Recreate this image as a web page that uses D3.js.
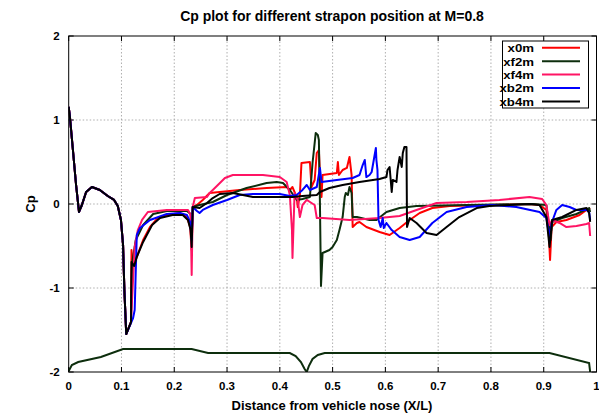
<!doctype html>
<html lang="en">
  <head>
    <meta charset="UTF-8" />
    <title>Cp plot for different strapon position at M=0.8</title>
    <script src="https://d3js.org/d3.v7.min.js"></script>
    <style>
      body {
        margin: 0;
        background: #fff;
      }
      text {
        font-family: 'Liberation Sans', Arial, sans-serif;
        font-weight: bold;
        fill: #000;
      }
      .grid line {
        stroke: #9a9a9a;
        stroke-width: 0.8;
        stroke-dasharray: 1.5, 2;
      }
    </style>
  </head>
  <body>
    <svg id="chart" width="599" height="415"></svg>
    <script>
      // tick values
      const xTicks = [0, 0.1, 0.2, 0.3, 0.4, 0.5, 0.6, 0.7, 0.8, 0.9, 1]
      const yTicks = [-2, -1, 0, 1, 2]

      // legend order
      const seriesNames = ['x0m', 'xf2m', 'xf4m', 'xb2m', 'xb4m']
      const seriesColors = ['#ff0000', '#0d2e0d', '#ff1464', '#0000ff', '#000000']

      // nose region is the same for every case
      const noseCp = [
        [0, 1.155], [0.0025, 1.024], [0.008, 0.643], [0.014, 0.226], [0.0195, -0.095],
        [0.025, -0.012], [0.033, 0.143], [0.044, 0.202], [0.059, 0.167], [0.074, 0.095],
        [0.086, 0.048], [0.093, -0.024], [0.099, -0.19], [0.103, -0.488], [0.1055, -1.024],
        [0.109, -1.548]
      ]

      const x0m = [
        [0.118, -1.405], [0.119, -0.548], [0.122, -0.75], [0.129, -0.631], [0.141, -0.429],
        [0.154, -0.274], [0.169, -0.167], [0.186, -0.131], [0.211, -0.107], [0.224, -0.155],
        [0.23, -0.274], [0.233, -0.548], [0.235, -0.036], [0.243, -0.012], [0.254, 0.048],
        [0.267, 0.131], [0.286, 0.143], [0.324, 0.167], [0.375, 0.19], [0.413, 0.202],
        [0.419, 0.167], [0.424, 0.202], [0.432, 0.083], [0.434, -0.036], [0.438, 0.107],
        [0.441, 0.488], [0.457, 0.5], [0.46, 0.202], [0.466, 0.286], [0.47, 0.607],
        [0.474, 0.643], [0.476, 0.345], [0.479, 0.083], [0.481, 0.345], [0.508, 0.369],
        [0.51, 0.5], [0.512, 0.345], [0.519, 0.405], [0.527, 0.429], [0.532, 0.56],
        [0.536, 0.345], [0.538, -0.274], [0.546, -0.226], [0.551, -0.214], [0.564, -0.274],
        [0.589, -0.333], [0.608, -0.369], [0.627, -0.286], [0.646, -0.19], [0.665, -0.107],
        [0.689, -0.048], [0.722, -0.024], [0.797, -0.012], [0.873, 0], [0.892, -0.012],
        [0.905, -0.071], [0.909, -0.274], [0.912, -0.667], [0.915, -0.274], [0.924, -0.214],
        [0.943, -0.19], [0.968, -0.131], [0.981, -0.071], [0.988, -0.048]
      ]

      const xf2m = [
        [0.118, -1.405], [0.12, -0.714], [0.127, -0.429], [0.141, -0.25], [0.16, -0.119],
        [0.186, -0.083], [0.224, -0.083], [0.231, -0.119], [0.233, -0.393], [0.235, -0.036],
        [0.248, -0.012], [0.273, 0.024], [0.3, 0.107], [0.337, 0.19], [0.375, 0.25],
        [0.394, 0.262], [0.406, 0.25], [0.419, 0.167], [0.432, 0.048], [0.443, 0.06],
        [0.457, 0.083], [0.462, 0.488], [0.468, 0.845], [0.472, 0.821], [0.474, 0.762],
        [0.476, 0.012], [0.478, -0.976], [0.481, -0.583], [0.494, -0.548], [0.5, -0.512],
        [0.508, -0.429], [0.513, -0.31], [0.519, -0.155], [0.523, 0.083], [0.525, 0.131],
        [0.529, 0.107], [0.532, 0.202], [0.536, 0.131], [0.538, -0.155], [0.546, -0.155],
        [0.57, -0.19], [0.583, -0.19], [0.602, -0.095], [0.627, -0.048], [0.659, -0.024],
        [0.754, -0.012], [0.879, 0], [0.905, -0.012], [0.909, -0.226], [0.913, -0.429],
        [0.916, -0.214], [0.935, -0.167], [0.962, -0.119], [0.986, -0.048], [0.988, -0.095]
      ]

      const xf4m = [
        [0.118, -1.405], [0.125, -0.512], [0.131, -0.31], [0.139, -0.19], [0.15, -0.095],
        [0.186, -0.071], [0.226, -0.071], [0.231, -0.131], [0.233, -0.845], [0.235, -0.036],
        [0.239, 0.071], [0.262, 0.083], [0.267, 0.131], [0.273, 0.167], [0.296, 0.31],
        [0.311, 0.345], [0.368, 0.345], [0.4, 0.321], [0.413, 0.262], [0.419, 0.107],
        [0.423, -0.31], [0.424, -0.643], [0.426, -0.25], [0.428, 0.131], [0.434, 0.048],
        [0.438, -0.155], [0.443, -0.012], [0.451, 0.048], [0.46, 0.012], [0.466, -0.012],
        [0.47, -0.167], [0.481, -0.167], [0.532, -0.19], [0.589, -0.167], [0.627, -0.143],
        [0.659, -0.071], [0.697, 0.012], [0.754, 0.024], [0.816, 0.048], [0.873, 0.083],
        [0.897, 0.06], [0.905, -0.012], [0.911, -0.25], [0.916, -0.19], [0.93, -0.226],
        [0.943, -0.274], [0.962, -0.262], [0.981, -0.238], [0.986, -0.226], [0.988, -0.381]
      ]

      const xb2m = [
        [0.122, -1.357], [0.125, -1.262], [0.129, -0.369], [0.135, -0.286], [0.154, -0.19],
        [0.186, -0.119], [0.211, -0.107], [0.224, -0.131], [0.23, -0.214], [0.233, -0.429],
        [0.235, -0.036], [0.243, -0.083], [0.248, -0.107], [0.254, -0.071], [0.273, -0.012],
        [0.3, 0.048], [0.324, 0.107], [0.349, 0.119], [0.4, 0.119], [0.419, 0.095],
        [0.432, 0.107], [0.443, 0.167], [0.451, 0.226], [0.457, 0.167], [0.47, 0.202],
        [0.476, 0.429], [0.479, 0.262], [0.508, 0.286], [0.538, 0.31], [0.551, 0.345],
        [0.557, 0.464], [0.561, 0.524], [0.564, 0.321], [0.57, 0.345], [0.574, 0.381],
        [0.578, 0.524], [0.582, 0.667], [0.583, 0.524], [0.585, 0.405], [0.587, -0.19],
        [0.591, -0.274], [0.595, -0.167], [0.597, -0.286], [0.602, -0.226], [0.612, -0.31],
        [0.627, -0.393], [0.646, -0.429], [0.665, -0.393], [0.689, -0.226], [0.716, -0.095],
        [0.754, -0.036], [0.803, -0.012], [0.848, -0.036], [0.892, -0.095], [0.905, -0.167],
        [0.911, -0.393], [0.915, -0.226], [0.924, -0.071], [0.935, -0.012], [0.949, -0.036],
        [0.962, -0.071], [0.981, -0.071], [0.986, -0.095], [0.988, -0.19]
      ]

      const xb4m = [
        [0.118, -1.405], [0.119, -0.69], [0.124, -0.738], [0.129, -0.631], [0.141, -0.452],
        [0.158, -0.25], [0.173, -0.167], [0.197, -0.131], [0.216, -0.131], [0.226, -0.19],
        [0.231, -0.31], [0.233, -0.512], [0.235, -0.036], [0.248, -0.048], [0.262, 0.012],
        [0.273, 0.071], [0.286, 0.119], [0.311, 0.131], [0.349, 0.083], [0.394, 0.083],
        [0.424, 0.083], [0.443, 0.095], [0.47, 0.107], [0.476, 0.143], [0.494, 0.19],
        [0.519, 0.226], [0.551, 0.262], [0.589, 0.298], [0.602, 0.321], [0.604, 0.405],
        [0.608, 0.44], [0.612, 0.143], [0.614, 0.286], [0.621, 0.262], [0.623, 0.405],
        [0.627, 0.56], [0.631, 0.44], [0.633, 0.607], [0.636, 0.679], [0.64, 0.679],
        [0.641, -0.274], [0.646, -0.167], [0.659, -0.226], [0.678, -0.345], [0.697, -0.369],
        [0.716, -0.274], [0.74, -0.155], [0.773, -0.048], [0.797, -0.024], [0.835, -0.012],
        [0.873, 0], [0.892, -0.012], [0.905, -0.155], [0.911, -0.512], [0.916, -0.19],
        [0.935, -0.155], [0.962, -0.071], [0.981, -0.048], [0.986, -0.107], [0.988, -0.214]
      ]

      // vehicle outline drawn along the bottom of the plot
      const bodyProfile = [
        [0, -1.988], [0.006, -1.917], [0.018, -1.881], [0.061, -1.821], [0.103, -1.726],
        [0.16, -1.726], [0.233, -1.726], [0.264, -1.774], [0.419, -1.774], [0.43, -1.81],
        [0.44, -1.881], [0.447, -1.964], [0.451, -2.0], [0.455, -1.93], [0.462, -1.845],
        [0.472, -1.798], [0.485, -1.774], [0.911, -1.774], [0.986, -1.893], [0.988, -2.0]
      ]

      const seriesData = [x0m, xf2m, xf4m, xb2m, xb4m].map((d) => noseCp.concat(d))

      const svg = d3.select('#chart')
      const width = +svg.attr('width')
      const height = +svg.attr('height')
      const margin = { top: 36, right: 2.5, bottom: 43, left: 68.7 }

      const x = d3.scaleLinear().domain([0, 1]).range([margin.left, width - margin.right])
      const y = d3.scaleLinear().domain([-2, 2]).range([height - margin.bottom, margin.top])

      // grid
      const grid = svg.append('g').attr('class', 'grid')
      grid
        .selectAll('.gx')
        .data(xTicks.slice(1, -1))
        .enter()
        .append('line')
        .attr('x1', (d) => x(d))
        .attr('x2', (d) => x(d))
        .attr('y1', y(-2))
        .attr('y2', y(2))
      grid
        .selectAll('.gy')
        .data(yTicks.slice(1, -1))
        .enter()
        .append('line')
        .attr('x1', x(0))
        .attr('x2', x(1))
        .attr('y1', (d) => y(d))
        .attr('y2', (d) => y(d))

      // inward ticks on all four sides, like gnuplot
      const tickLen = 5
      const tickG = svg.append('g').attr('stroke', '#000').attr('stroke-width', 1)
      xTicks.forEach((t) => {
        tickG.append('line').attr('x1', x(t)).attr('x2', x(t)).attr('y1', y(-2)).attr('y2', y(-2) - tickLen)
        tickG.append('line').attr('x1', x(t)).attr('x2', x(t)).attr('y1', y(2)).attr('y2', y(2) + tickLen)
      })
      yTicks.forEach((t) => {
        tickG.append('line').attr('x1', x(0)).attr('x2', x(0) + tickLen).attr('y1', y(t)).attr('y2', y(t))
        tickG.append('line').attr('x1', x(1)).attr('x2', x(1) - tickLen).attr('y1', y(t)).attr('y2', y(t))
      })

      // tick labels
      svg
        .selectAll('.xl')
        .data(xTicks)
        .enter()
        .append('text')
        .attr('x', (d) => x(d))
        .attr('y', height - margin.bottom + 18)
        .attr('text-anchor', 'middle')
        .style('font-size', '11.5px')
        .text((d) => d3.format('')(d))
      svg
        .selectAll('.yl')
        .data(yTicks)
        .enter()
        .append('text')
        .attr('x', margin.left - 9)
        .attr('y', (d) => y(d) + 4)
        .attr('text-anchor', 'end')
        .style('font-size', '11.5px')
        .text((d) => d)

      // curves
      svg
        .append('clipPath')
        .attr('id', 'clip')
        .append('rect')
        .attr('x', x(0))
        .attr('y', y(2))
        .attr('width', x(1) - x(0))
        .attr('height', y(-2) - y(2))

      const line = d3
        .line()
        .x((d) => x(d[0]))
        .y((d) => y(d[1]))

      const plot = svg.append('g').attr('clip-path', 'url(#clip)')

      plot
        .append('path')
        .attr('d', line(bodyProfile))
        .attr('fill', 'none')
        .attr('stroke', seriesColors[1])
        .attr('stroke-width', 2)

      seriesData.forEach((d, i) => {
        plot
          .append('path')
          .attr('d', line(d))
          .attr('fill', 'none')
          .attr('stroke', seriesColors[i])
          .attr('stroke-width', 2)
          .attr('stroke-linejoin', 'round')
      })

      // border
      svg
        .append('rect')
        .attr('x', x(0))
        .attr('y', y(2))
        .attr('width', x(1) - x(0))
        .attr('height', y(-2) - y(2))
        .attr('fill', 'none')
        .attr('stroke', '#000')
        .attr('stroke-width', 1)

      // legend (text stretched a little so it stays wide but doesn't overlap)
      const legend = svg.append('g')
      legend
        .append('rect')
        .attr('x', 502.5)
        .attr('y', 41)
        .attr('width', 86)
        .attr('height', 67)
        .attr('fill', '#fff')
        .attr('stroke', '#000')
        .attr('stroke-width', 1)
      seriesNames.forEach((name, i) => {
        const ly = 47.8 + i * 13.4
        legend
          .append('text')
          .attr('transform', `translate(534,${ly + 4.3}) scale(1.15,1)`)
          .attr('text-anchor', 'end')
          .style('font-size', '11.5px')
          .text(name)
        legend
          .append('line')
          .attr('x1', 542)
          .attr('x2', 580)
          .attr('y1', ly)
          .attr('y2', ly)
          .attr('stroke', seriesColors[i])
          .attr('stroke-width', 2)
      })

      // titles
      svg
        .append('text')
        .attr('x', 332)
        .attr('y', 21)
        .attr('text-anchor', 'middle')
        .style('font-size', '14px')
        .text('Cp plot for different strapon position at M=0.8')
      svg
        .append('text')
        .attr('x', 332)
        .attr('y', 410)
        .attr('text-anchor', 'middle')
        .style('font-size', '13px')
        .text('Distance from vehicle nose (X/L)')
      svg
        .append('text')
        .attr('transform', `translate(35,${y(0)}) rotate(-90)`)
        .attr('text-anchor', 'middle')
        .style('font-size', '13px')
        .text('Cp')
    </script>
  </body>
</html>
